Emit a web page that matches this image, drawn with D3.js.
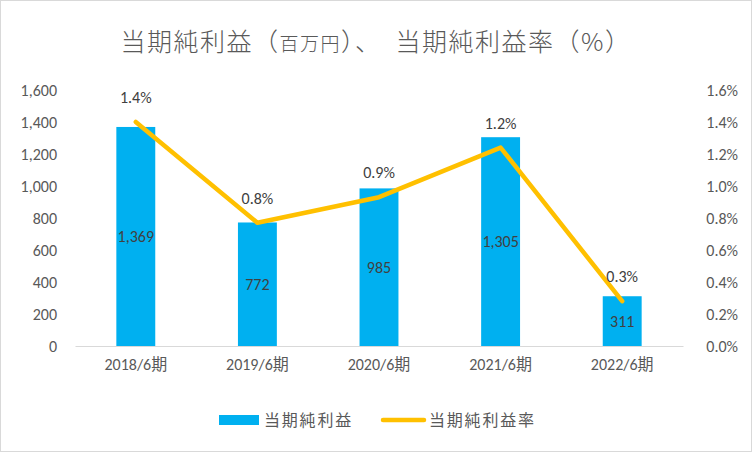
<!DOCTYPE html>
<html>
<head>
<meta charset="utf-8">
<script src="https://cdn.jsdelivr.net/npm/d3@7"></script>
<style>
  body { margin: 0; background: #fff; }
  svg text { font-family: Calibri, Lato, "Noto Sans CJK JP", sans-serif; fill: #595959; }
  .jp { font-family: "Noto Sans CJK JP", sans-serif; }
</style>
</head>
<body>
<svg width="752" height="452"></svg>
<script>
var categories = ['2018/6期', '2019/6期', '2020/6期', '2021/6期', '2022/6期'];
var profit = [1369, 772, 985, 1305, 311];
var profitRate = [1.4, 0.77, 0.93, 1.24, 0.28];
var rateLabels = ['1.4%', '0.8%', '0.9%', '1.2%', '0.3%'];
var leftTicks = [0, 200, 400, 600, 800, 1000, 1200, 1400, 1600];
var rightTicks = [0, 0.2, 0.4, 0.6, 0.8, 1.0, 1.2, 1.4, 1.6];

var margin = { top: 90, right: 69, bottom: 106, left: 75 };
var width = 752 - margin.left - margin.right;
var height = 452 - margin.top - margin.bottom;

var svg = d3.select('svg');

// chart border
svg.append('rect')
    .attr('x', 0.5).attr('y', 0.5)
    .attr('width', 751).attr('height', 451)
    .attr('fill', '#fff')
    .attr('stroke', '#d9d9d9');

// title: main text large, unit part smaller
var title = svg.append('text')
    .attr('class', 'jp')
    .attr('x', 376).attr('y', 51)
    .attr('text-anchor', 'middle')
    .style('font-weight', 300)
    .style('letter-spacing', '1.5px');
var titleParts = [
  ['当期純利益', 25], ['（', 25], ['百万円', 19], ['）', 25],
  ['、\u3000当期純利益率', 25], ['（%）', 25]
];
titleParts.forEach(function(p) {
  title.append('tspan').style('font-size', p[1] + 'px').text(p[0]);
});

var g = svg.append('g')
    .attr('transform', 'translate(' + margin.left + ',' + margin.top + ')');

var x = d3.scaleBand()
    .domain(categories)
    .range([0, width])
    .paddingInner(0.68)
    .paddingOuter(0.34);

var y = d3.scaleLinear().domain([0, 1600]).range([height, 0]);
var y2 = d3.scaleLinear().domain([0, 1.6]).range([height, 0]);

var yAxis = d3.axisLeft(y)
    .tickValues(leftTicks)
    .tickSize(0)
    .tickPadding(18)
    .tickFormat(d3.format(','));

var y2Axis = d3.axisRight(y2)
    .tickValues(rightTicks)
    .tickSize(0)
    .tickPadding(18)
    .tickFormat(function(d) { return d.toFixed(1) + '%'; });

g.append('g').call(yAxis)
    .call(function(s) { s.select('.domain').remove(); })
    .selectAll('text').style('font-size', '16px');

g.append('g')
    .attr('transform', 'translate(' + width + ',0)')
    .call(y2Axis)
    .call(function(s) { s.select('.domain').remove(); })
    .selectAll('text')
    .attr('text-anchor', 'end')
    .attr('dx', 37)
    .style('font-size', '16px');

// bars
g.selectAll('.bar')
    .data(profit)
    .enter().append('rect')
    .attr('class', 'bar')
    .attr('x', function(d, i) { return x(categories[i]); })
    .attr('y', function(d) { return y(d); })
    .attr('width', x.bandwidth())
    .attr('height', function(d) { return height - y(d); })
    .attr('fill', '#00b0f0');

// x axis baseline
var xAxis = d3.axisBottom(x).tickSize(0).tickPadding(13);
g.append('g')
    .attr('transform', 'translate(0,' + height + ')')
    .call(xAxis)
    .call(function(s) { s.select('.domain').attr('stroke', '#d9d9d9'); })
    .selectAll('text').style('font-size', '16px');

g.selectAll('.bar-label')
    .data(profit)
    .enter().append('text')
    .attr('x', function(d, i) { return x(categories[i]) + x.bandwidth() / 2; })
    .attr('y', function(d) { return (y(d) + height) / 2; })
    .attr('dy', '0.35em')
    .attr('text-anchor', 'middle')
    .style('font-size', '16px')
    .style('fill', '#404040')
    .text(d3.format(','));

// rate line
var line = d3.line()
    .x(function(d, i) { return x(categories[i]) + x.bandwidth() / 2; })
    .y(function(d) { return y2(d); });

g.append('path')
    .datum(profitRate)
    .attr('d', line)
    .attr('fill', 'none')
    .attr('stroke', '#ffc000')
    .attr('stroke-width', 4.5)
    .attr('stroke-linejoin', 'round')
    .attr('stroke-linecap', 'round');

g.selectAll('.rate-label')
    .data(profitRate)
    .enter().append('text')
    .attr('x', function(d, i) { return x(categories[i]) + x.bandwidth() / 2; })
    .attr('y', function(d) { return y2(d) - 19; })
    .attr('text-anchor', 'middle')
    .style('font-size', '16px')
    .style('fill', '#404040')
    .text(function(d, i) { return rateLabels[i]; });

// legend
var legend = svg.append('g').attr('transform', 'translate(0,420)');
legend.append('rect')
    .attr('x', 219).attr('y', -5)
    .attr('width', 40).attr('height', 10)
    .attr('fill', '#00b0f0');
legend.append('text')
    .attr('class', 'jp')
    .attr('x', 264).attr('y', 0).attr('dy', '0.35em')
    .style('font-size', '16px')
    .style('letter-spacing', '1.8px')
    .text('当期純利益');
legend.append('line')
    .attr('x1', 383).attr('x2', 424)
    .attr('y1', 0).attr('y2', 0)
    .attr('stroke', '#ffc000')
    .attr('stroke-width', 4.5)
    .attr('stroke-linecap', 'round');
legend.append('text')
    .attr('class', 'jp')
    .attr('x', 429).attr('y', 0).attr('dy', '0.35em')
    .style('font-size', '16px')
    .style('letter-spacing', '1.8px')
    .text('当期純利益率');
</script>
</body>
</html>
